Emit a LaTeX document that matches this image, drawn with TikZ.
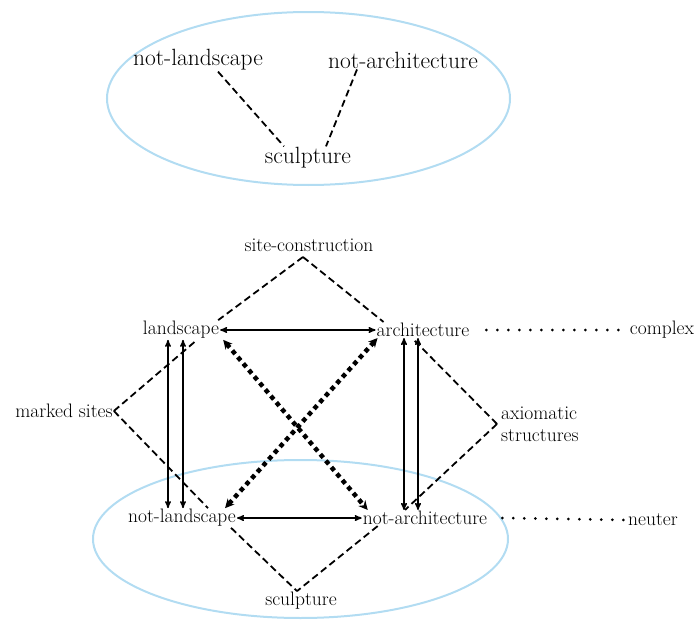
\documentclass[tikz,border=0pt]{standalone}
\usepackage{xcolor}
\usepackage{tikz}
\usetikzlibrary{arrows, arrows.meta}
\definecolor{ovalblue}{RGB}{178,220,242}
\tikzset{
	>=stealth', % makes the arrow heads bold
	every node/.style={inner sep=1pt}, % keeps the lines close to the words
	bigtxt/.style={font=\fontsize{23.5}{26}\selectfont}, % words in the upper oval
	txt/.style={font=\fontsize{19.5}{22}\selectfont}, % words in the lower scheme
	oval/.style={draw=ovalblue, line width=2pt},
	link/.style={-, line width=1.8pt, dash pattern=on 7pt off 4pt},
	rel/.style={<->, line width=1.4pt},
	cross/.style={{Stealth[length=9pt,width=9pt]}-{Stealth[length=9pt,width=9pt]}, line width=4.5pt, dash pattern=on 4.5pt off 4pt},
	tier/.style={-, line width=3pt, line cap=round, dash pattern=on 0pt off 11pt},
}
\begin{document}
\begin{tikzpicture}[x=1pt, y=-1pt]
		\useasboundingbox (0,0) rectangle (697,621);
		% Upper oval
		\draw[oval] (308.5,98.5) ellipse [x radius=201.5pt, y radius=86.5pt];
		\node[bigtxt] (tnl) at (198,60) {not-landscape};
		\node[bigtxt] (tna) at (403,60) {not-architecture};
		\node[bigtxt] (tsc) at (308,158) {sculpture};
		
		\path
		([xshift=20pt]tnl.south) edge[link] ([xshift=-24pt]tsc.north)
		([xshift=-46pt]tna.south) edge[link] ([xshift=18pt]tsc.north);
		
		% Lower oval
		\draw[oval] (300.5,539) ellipse [x radius=207.5pt, y radius=79pt];
		
		% Define terms
		\node[txt] (site) at (309,245) {site-construction};
		\node[txt] (lnd) at (181,330) {landscape};
		\node[txt] (arch) at (423,330) {architecture};
		\node[txt] (cx) at (662,330) {complex};
		\node[txt] (mark) at (64,411) {marked sites};
		\node[txt, align=left, anchor=west] (axio) at (500,424) {axiomatic\\structures};
		\node[txt] (nl) at (182,518) {not-landscape};
		\node[txt] (na) at (425,518) {not-architecture};
		\node[txt] (neu) at (653,520) {neuter};
		\node[txt] (scu) at (301,601) {sculpture};
		\coordinate (apex) at (303,257);
		
		% Relations
		\path
		(lnd.east) edge[rel] (arch.west)
		(nl.east) edge[rel] (na.west)
		([xshift=-13pt]lnd.south) edge[rel] ([xshift=-14pt]nl.north)
		([xshift=2pt]lnd.south) edge[rel] ([xshift=1pt]nl.north)
		([xshift=-19pt]arch.south) edge[rel] ([xshift=-21pt]na.north)
		([xshift=-5pt]arch.south) edge[rel] ([xshift=-7pt]na.north)
		([xshift=3pt]lnd.south east) edge[cross] ([xshift=6pt]na.north west)
		([xshift=2pt]arch.south west) edge[cross] ([xshift=-12pt]nl.north east);
		
		% Expanded field
		\path
		(apex) edge[link] ([xshift=-2pt]lnd.north east)
		(apex) edge[link] ([xshift=8pt]arch.north west)
		(mark.east) edge[link] ([xshift=16pt]lnd.south)
		(mark.east) edge[link] ([xshift=26pt]nl.north)
		([xshift=-3pt]axio.west) edge[link] ([xshift=-11pt]arch.south)
		([xshift=-3pt]axio.west) edge[link] ([xshift=-20pt]na.north)
		([xshift=-6pt]nl.south east) edge[link] ([xshift=-4pt]scu.north)
		([xshift=16pt]na.south west) edge[link] ([xshift=-4pt]scu.north)
		([xshift=16pt]arch.east) edge[tier] (cx.west)
		([xshift=14pt]na.east) edge[tier] (neu.west);
	\end{tikzpicture}
\end{document}
